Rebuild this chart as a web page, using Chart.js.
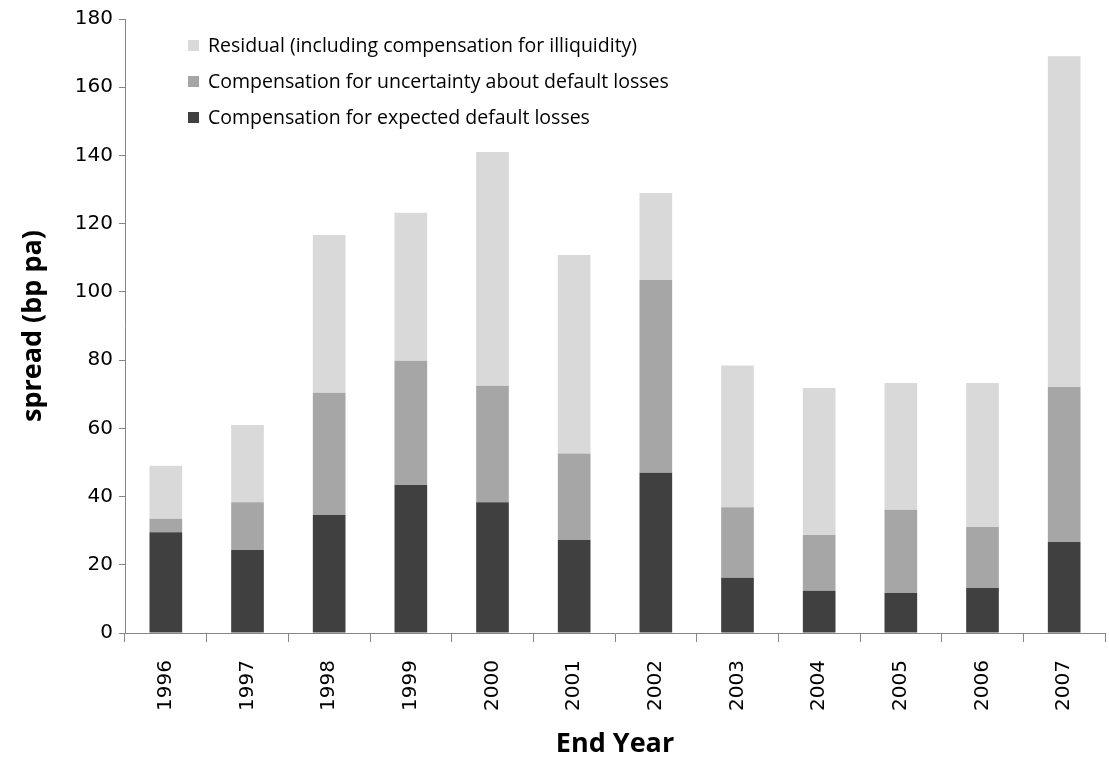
<!DOCTYPE html>
<html>
<head>
<meta charset="utf-8">
<script src="https://cdn.jsdelivr.net/npm/chart.js@4.4.0/dist/chart.umd.min.js"></script>
<style>
  html, body { margin: 0; padding: 0; background: #fff; }
  #wrap { width: 1109px; height: 758px; }
</style>
</head>
<body>
<div id="wrap"><canvas id="chart"></canvas></div>
<script>
const years = ["1996", "1997", "1998", "1999", "2000", "2001", "2002", "2003", "2004", "2005", "2006", "2007"];
const expectedLosses = [29.5, 24.3, 34.6, 43.4, 38.3, 27.3, 47.0, 16.2, 12.4, 11.7, 13.2, 26.7];
const uncertainty = [4.0, 14.0, 35.8, 36.4, 34.2, 25.3, 56.5, 20.7, 16.3, 24.4, 17.9, 45.4];
const residual = [15.5, 22.7, 46.3, 43.4, 68.5, 58.2, 25.5, 41.5, 43.1, 37.2, 42.2, 97.0];

const yTitle = "spread (bp pa)";
const xTitle = "End Year";

const axisGrey = "#868686";
const tickFont = { family: "'DejaVu Sans', Verdana, sans-serif", size: 20 };
const titleFamily = "'Open Sans', Calibri, sans-serif";

// legend inside the plot, top-left, residual listed first
const insideLegend = {
  id: "insideLegend",
  afterDraw(chart) {
    const ctx = chart.ctx;
    const area = chart.chartArea;
    const sets = chart.data.datasets.slice().reverse();
    ctx.save();
    ctx.font = "19.5px " + titleFamily;
    ctx.textBaseline = "middle";
    sets.forEach((ds, i) => {
      const y = area.top + 27 + i * 36;
      const x = area.left + 63;
      ctx.fillStyle = ds.backgroundColor;
      ctx.fillRect(x, y - 6, 11, 11);
      ctx.fillStyle = "#000";
      ctx.fillText(ds.label, x + 20, y);
    });
    ctx.restore();
  }
};

new Chart(document.getElementById("chart"), {
  type: "bar",
  data: {
    labels: years,
    datasets: [
      { label: "Compensation for expected default losses", data: expectedLosses, backgroundColor: "#404040" },
      { label: "Compensation for uncertainty about default losses", data: uncertainty, backgroundColor: "#a6a6a6" },
      { label: "Residual (including compensation for illiquidity)", data: residual, backgroundColor: "#d9d9d9" }
    ]
  },
  options: {
    responsive: true,
    maintainAspectRatio: false,
    animation: false,
    layout: { padding: { top: 19, right: 4, left: 0, bottom: 0 } },
    datasets: { bar: { barPercentage: 0.4, categoryPercentage: 1.0 } },
    plugins: {
      legend: { display: false },
      tooltip: { enabled: false }
    },
    scales: {
      x: {
        stacked: true,
        afterFit(scale) { scale.height = 125; },
        border: { color: axisGrey, width: 1 },
        grid: { display: true, drawOnChartArea: false, drawTicks: true, tickLength: 9, color: axisGrey, offset: true },
        ticks: { color: "#000", font: tickFont, minRotation: 90, maxRotation: 90, padding: 18, autoSkip: false },
        title: { display: true, text: xTitle, color: "#000", font: { family: titleFamily, size: 27, weight: "bold", lineHeight: 1 }, padding: { top: 0, bottom: 0 } }
      },
      y: {
        stacked: true,
        min: 0,
        max: 180,
        afterFit(scale) { scale.width = 125; },
        border: { color: axisGrey, width: 1 },
        grid: { display: true, drawOnChartArea: false, drawTicks: true, tickLength: 6, color: axisGrey },
        ticks: { stepSize: 20, color: "#000", font: tickFont, padding: 6 },
        title: { display: true, text: yTitle, color: "#000", font: { family: titleFamily, size: 27, weight: "bold", lineHeight: 1.2 }, padding: { top: 17, bottom: 0 } }
      }
    }
  },
  plugins: [insideLegend]
});
</script>
</body>
</html>
